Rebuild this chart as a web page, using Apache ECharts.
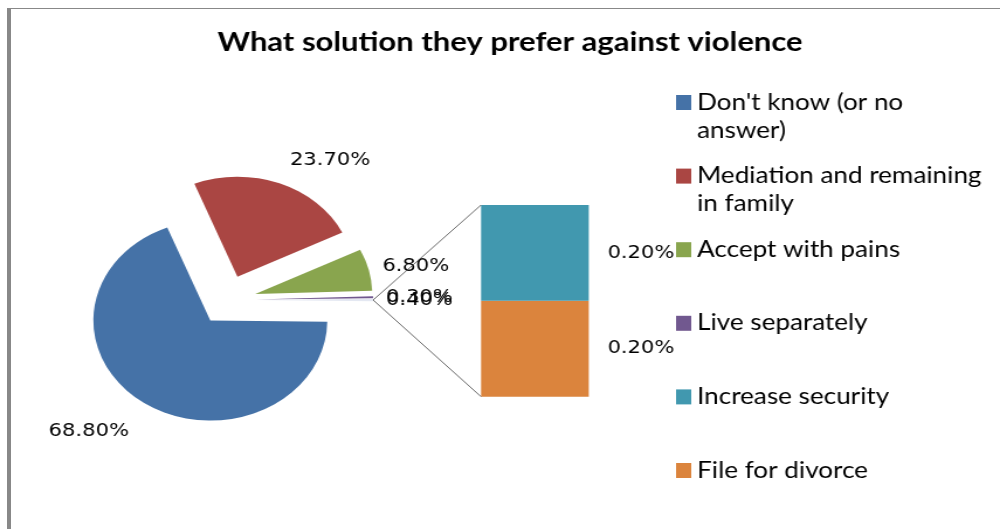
<!DOCTYPE html>
<html>
<head>
<meta charset="utf-8">
<script src="https://cdn.jsdelivr.net/npm/echarts@6/dist/echarts.min.js"></script>
<style>
  html, body { margin: 0; padding: 0; background: #fff; }
  #frame { position: absolute; left: 0; top: 0; width: 1000px; height: 529px; overflow: hidden; background: #fff; }
  #edge { position: absolute; left: 7px; top: 8px; width: 993px; height: 521px;
          border-top: 1px solid #888; border-left: 4px solid #888; box-sizing: border-box; }
  /* the chart is laid out on a narrower canvas and widened, like the source figure */
  #chart { position: absolute; left: 0; top: 0; width: 855px; height: 529px;
           transform: scaleX(1.1696); transform-origin: 0 0; }
</style>
</head>
<body>
<div id="frame"><div id="edge"></div><div id="chart"></div></div>
<script>
// Main pie: answers shown as their own slices
const pieCategories = ["Don't know (or no answer)", "Mediation and remaining in family", "Accept with pains", "Live separately"];
const pieValues = [68.8, 23.7, 6.8, 0.3];
const pieColors = ['#4572A7', '#AA4643', '#89A54E', '#71588F'];

// Secondary bar: the small answers grouped into the "Other" slice
const barCategories = ['Increase security', 'File for divorce'];
const barValues = [0.2, 0.2];
const barColors = ['#4198AF', '#DB843D'];
const otherColor = '#E4E8F2';

// Legend wording, wrapped as in the figure
const legendWrap = {
  "Don't know (or no answer)": "Don't know (or no\nanswer)",
  'Mediation and remaining in family': 'Mediation and remaining\nin family'
};

const otherValue = barValues.reduce((a, b) => a + b, 0);
const total = pieValues.reduce((a, b) => a + b, 0) + otherValue;
const pct = v => v.toFixed(2) + '%';

// distance of each outside label from the rim
const labelLen = [35, 25, 12, 11];
const labelLen2 = [-7, 0, 0, 0];

const pieData = pieCategories.map((name, i) => ({
  name, value: pieValues[i], selected: true,
  itemStyle: { color: pieColors[i] },
  labelLine: { show: false, length: labelLen[i], length2: labelLen2[i] }
}));
pieData.push({
  name: 'Other', value: otherValue, selected: true,
  itemStyle: { color: otherColor },
  labelLine: { show: false, length: 11, length2: 0 }
});

const labelFont = { fontFamily: 'DejaVu Sans', fontSize: 18, color: '#000' };
const legendNames = pieCategories.concat(barCategories);

// each legend entry is three lines tall, its first text line level with the swatch
const legendText = n => {
  const t = legendWrap[n];
  return t ? '\n' + t : '\n' + n + '\n';
};

const chart = echarts.init(document.getElementById('chart'), null, { renderer: 'canvas' });

const option = {
  animation: false,
  backgroundColor: 'transparent',
  title: {
    text: 'What solution they prefer against violence',
    left: 186, top: 29, padding: 0,
    textStyle: { fontFamily: 'Lato', fontWeight: 'bold', fontSize: 26.5, color: '#000' }
  },
  legend: {
    orient: 'vertical', left: 578, top: 60.5, padding: 0,
    itemWidth: 13, itemHeight: 15, itemGap: -10.4, icon: 'rect',
    selectedMode: false,
    data: legendNames,
    formatter: legendText,
    textStyle: { fontFamily: 'Lato', fontSize: 22.3, color: '#000', lineHeight: 28 }
  },
  grid: { left: 411.3, top: 205, width: 92.1, height: 191.7 },
  xAxis: { type: 'category', data: [''], show: false },
  yAxis: { type: 'value', min: 0, max: otherValue, show: false },
  series: [
    {
      type: 'pie',
      center: [194, 300], radius: 100,
      startAngle: -otherValue / total * 180, clockwise: true,
      selectedMode: 'multiple', selectedOffset: 25,
      avoidLabelOverlap: false, silent: true,
      labelLayout: { hideOverlap: false },
      emphasis: { disabled: true },
      itemStyle: { borderWidth: 0 },
      label: Object.assign({ show: true, position: 'outside', distanceToLabelLine: 0,
        formatter: p => pct(p.value) }, labelFont),
      data: pieData
    },
    {
      type: 'bar', name: barCategories[1], stack: 'other', barWidth: '100%', silent: true,
      itemStyle: { color: barColors[1] },
      label: Object.assign({ show: true, position: 'right', distance: 16, formatter: p => pct(p.value) }, labelFont),
      data: [barValues[1]]
    },
    {
      type: 'bar', name: barCategories[0], stack: 'other', barWidth: '100%', silent: true,
      itemStyle: { color: barColors[0] },
      label: Object.assign({ show: true, position: 'right', distance: 16, formatter: p => pct(p.value) }, labelFont),
      data: [barValues[0]]
    }
  ]
};
chart.setOption(option);

// connector lines from the exploded "Other" slice to the edges of the bar
const model = chart.getModel();
const pieSeries = model.getSeriesByIndex(0);
const otherLayout = pieSeries.getData().getItemLayout(pieData.length - 1);
const mid = (otherLayout.startAngle + otherLayout.endAngle) / 2;
const off = pieSeries.get('selectedOffset');
const tipX = otherLayout.cx + Math.cos(mid) * (off + otherLayout.r);
const tipY = otherLayout.cy + Math.sin(mid) * (off + otherLayout.r);

const topBar = model.getSeriesByIndex(2).getData().getItemLayout(0);
const botBar = model.getSeriesByIndex(1).getData().getItemLayout(0);
const topY = Math.min(topBar.y, topBar.y + topBar.height);
const botY = Math.max(botBar.y, botBar.y + botBar.height);

chart.setOption({
  graphic: [
    { type: 'line', silent: true, z: 10, shape: { x1: tipX, y1: tipY, x2: topBar.x, y2: topY },
      style: { stroke: '#444', lineWidth: 0.8 } },
    { type: 'line', silent: true, z: 10, shape: { x1: tipX, y1: tipY, x2: botBar.x, y2: botY },
      style: { stroke: '#444', lineWidth: 0.8 } }
  ]
});
</script>
</body>
</html>
